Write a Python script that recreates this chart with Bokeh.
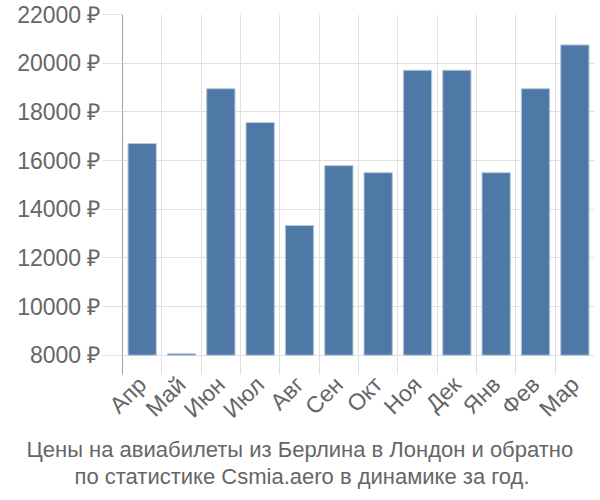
from bokeh.plotting import figure
from bokeh.models import FixedTicker, Title
from bokeh.embed import file_html
from bokeh.resources import INLINE

months = ["Апр", "Май", "Июн", "Июл", "Авг", "Сен", "Окт", "Ноя", "Дек", "Янв", "Фев", "Мар"]
prices = [16700, 8060, 18950, 17560, 13330, 15790, 15500, 19710, 19710, 15500, 18950, 20750]
y_ticks = [8000, 10000, 12000, 14000, 16000, 18000, 20000, 22000]
title_lines = ["Цены на авиабилеты из Берлина в Лондон и обратно",
               "по статистике Csmia.aero в динамике за год."]

FONT = "Liberation Sans"
TXT = "#666666"
GRID = "#e0e0e0"

y_bottom = 7207
p = figure(width=600, height=500, x_range=(0, 12), y_range=(y_bottom, 22000),
           output_backend="svg", toolbar_location=None,
           min_border_left=122, min_border_right=6, min_border_top=14, min_border_bottom=126)
p.outline_line_color = None
p.background_fill_color = "white"
p.border_fill_color = "white"

centers = [i + 0.5 for i in range(len(months))]
p.vbar(x=centers, top=prices, bottom=8000, width=0.72,
       fill_color="#4e79a7", line_color="#b8c9dc", line_width=1)

# y axis
ya = p.yaxis[0]
ya.ticker = FixedTicker(ticks=y_ticks)
ya.major_label_overrides = {t: f"{t} ₽" for t in y_ticks}
ya.axis_line_color = "#a0a0a0"
ya.axis_line_width = 1
ya.major_tick_in = 0
ya.major_tick_out = 20
ya.major_tick_line_color = GRID
ya.minor_tick_line_color = None
ya.major_label_text_font = FONT
ya.major_label_text_font_size = "23px"
ya.major_label_text_color = TXT
ya.major_label_standoff = 2

# x axis
xa = p.xaxis[0]
xa.ticker = FixedTicker(ticks=centers)
xa.major_label_overrides = {c: m for c, m in zip(centers, months)}
xa.axis_line_color = None
xa.major_tick_line_color = None
xa.minor_tick_line_color = None
xa.major_label_orientation = 0.785398
xa.major_label_text_font = FONT
xa.major_label_text_font_size = "23px"
xa.major_label_text_color = TXT
xa.major_label_standoff = 0

for line, off in zip(title_lines, [-96, -48]):
    t = Title(text=line, align="left", offset=off, text_font=FONT,
              text_font_size="22px", text_font_style="normal", text_color=TXT,
              standoff=0)
    p.add_layout(t, "below")

p.ygrid.ticker = FixedTicker(ticks=y_ticks)
p.ygrid.grid_line_color = GRID
p.xgrid.ticker = FixedTicker(ticks=list(range(13)))
p.xgrid.grid_line_color = GRID

open("out.html", "w").write(file_html(p, INLINE))
